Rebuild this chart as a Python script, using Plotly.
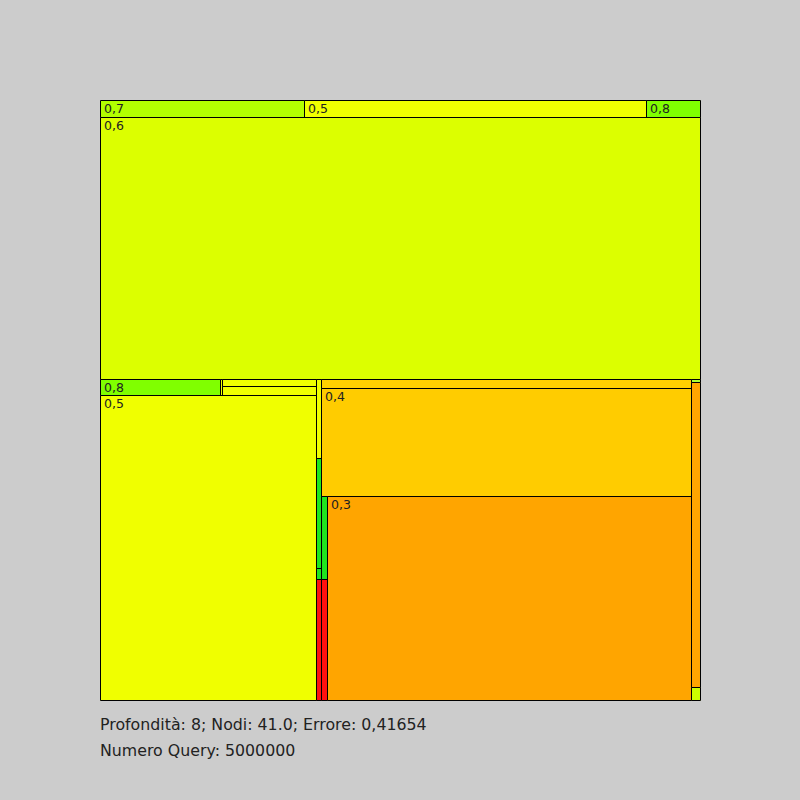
import plotly.graph_objects as go

# Partition cells (units: 0..600 across the square, y measured from the top)
x0 = [0, 204, 546, 0, 0, 120, 122, 122, 0, 216, 216, 216, 216, 221, 221, 221, 221, 227, 591, 591, 591]
x1 = [204, 546, 600, 600, 120, 122, 216, 216, 216, 221, 221, 221, 221, 591, 591, 227, 227, 591, 600, 600, 600]
y0 = [0, 0, 0, 17, 279, 279, 279, 286, 295, 279, 358, 468, 479, 279, 288, 396, 479, 396, 279, 282, 587]
y1 = [17, 17, 17, 279, 295, 295, 286, 295, 600, 358, 468, 479, 600, 288, 396, 479, 600, 600, 282, 587, 600]
colors = ["#b3ff00", "#f0ff00", "#80ff00", "#dcff00", "#80ff00", "#f0ff00", "#f0ff00", "#f0ff00",
          "#f0ff00", "#f0ff00", "#1ee61e", "#1ee61e", "#ff1010", "#ffd000", "#ffcc00", "#1ee61e",
          "#ff1010", "#ffa500", "#aaff33", "#ffa500", "#ccff00"]
labels = ["0,7", "0,5", "0,8", "0,6", "0,8", "", "", "", "0,5", "", "", "", "", "", "0,4", "", "",
          "0,3", "", "", ""]

footer = ["Profondità: 8; Nodi: 41.0; Errore: 0,41654", "Numero Query: 5000000"]

fig = go.Figure()
fig.add_trace(go.Scatter(x=[0], y=[0], mode="markers", marker=dict(opacity=0), hoverinfo="skip",
                         showlegend=False))

off = 0.5
shapes = []
annotations = []
for a, b, c, d, col, lab in zip(x0, x1, y0, y1, colors, labels):
    shapes.append(dict(type="rect", xref="x", yref="y", x0=a + off, x1=b + off, y0=c + off, y1=d + off,
                       fillcolor=col, line=dict(color="black", width=1), layer="above"))
    if lab:
        annotations.append(dict(x=a + 2, y=c + 8.5, xref="x", yref="y", text=lab, showarrow=False,
                                xanchor="left", yanchor="middle",
                                font=dict(family="DejaVu Sans", size=12.5, color="#222222")))

for i, t in enumerate(footer):
    annotations.append(dict(x=-0.003, y=-(23.5 + 26 * i) / 601, xref="paper", yref="paper", text=t,
                            showarrow=False, xanchor="left", yanchor="middle",
                            font=dict(family="DejaVu Sans", size=15.8, color="#222222")))

fig.update_layout(
    width=792, height=792,
    margin=dict(l=92, r=99, t=92, b=99, pad=0),
    paper_bgcolor="#cccccc", plot_bgcolor="#cccccc",
    xaxis=dict(range=[0, 601], visible=False, fixedrange=True),
    yaxis=dict(range=[601, 0], visible=False, fixedrange=True),
    shapes=shapes, annotations=annotations, showlegend=False,
)

fig.write_html("out.html",
               post_script="document.body.style.background='#cccccc';"
                           "document.documentElement.style.background='#cccccc';")
